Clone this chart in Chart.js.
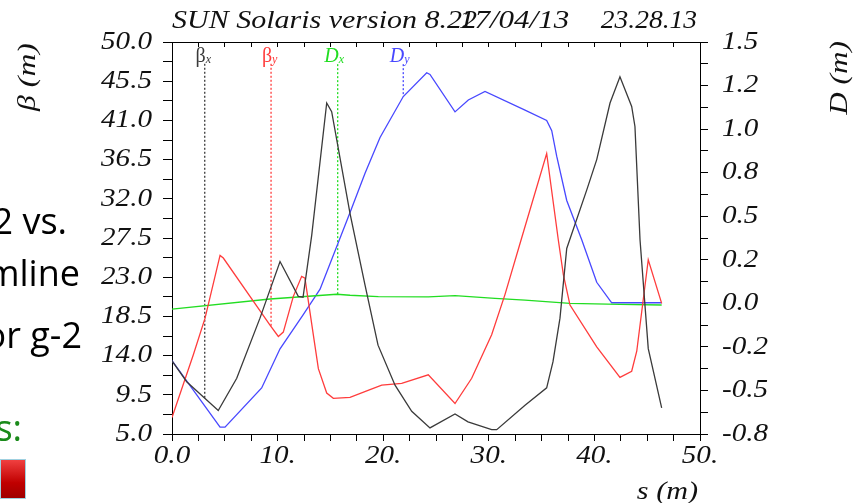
<!DOCTYPE html>
<html>
<head>
<meta charset="utf-8">
<script src="https://cdn.jsdelivr.net/npm/chart.js@4/dist/chart.umd.min.js"></script>
<style>
  body { margin: 0; background: #fff; }
  #wrap { position: relative; width: 864px; height: 503px; overflow: hidden; }
  canvas { position: absolute; left: 0; top: 0; }
  .slide { position: absolute; font-family: "Open Sans", sans-serif; font-size: 36px; white-space: nowrap; line-height: 1; }
  #box { position: absolute; left: 0; top: 459px; width: 24px; height: 38px; border: 1px solid #9fd0e0;
         background: linear-gradient(#f04040, #c00000 60%, #a00000); }
</style>
</head>
<body>
<div id="wrap">
  <canvas id="optics" width="864" height="503"></canvas>
  <div class="slide" style="right:797px; top:203px;">2 vs.</div>
  <div class="slide" style="right:784px; top:255px;">mline</div>
  <div class="slide" style="right:782px; top:317px;">or g-2</div>
  <div class="slide" style="right:842px; top:410px; color:#1a8a1a;">s:</div>
  <div id="box"></div>
</div>
<script>
"use strict";

// beta x (m) vs s (m)
const betaXs = [0, 1.39, 4.38, 6.13, 8.33, 10.23, 11.96, 12.41, 13.23, 14.65, 15.12, 16.86, 18.28, 19.51, 21.12, 22.70, 24.43, 26.80, 28.03, 30.27, 30.75, 33.43, 35.48, 36.08, 36.74, 37.38, 39.27, 40.22, 41.48, 42.42, 43.53, 43.84, 44.32, 45.10, 46.37];
const betaX = [13.4, 11.0, 7.7, 11.4, 18.3, 24.8, 20.8, 20.7, 27.8, 43.0, 42.0, 30.3, 22.1, 15.2, 10.6, 7.6, 5.7, 7.3, 6.4, 5.5, 5.5, 8.3, 10.3, 13.3, 18.3, 26.3, 33.0, 36.5, 43.0, 46.0, 42.6, 40.3, 27.3, 14.8, 8.0];

// beta y (m) vs s (m)
const betaYs = [0, 2.02, 3.13, 4.55, 4.86, 9.28, 10.07, 10.54, 11.49, 12.28, 12.59, 13.38, 13.86, 14.65, 15.28, 16.86, 18.75, 19.86, 21.75, 24.27, 26.80, 28.38, 30.27, 31.53, 33.11, 35.48, 36.58, 37.06, 37.69, 40.22, 42.42, 43.53, 44.01, 45.10, 46.37];
const betaY = [6.9, 14.1, 18.3, 25.5, 25.2, 17.5, 16.2, 16.7, 20.8, 23.1, 22.9, 16.4, 12.5, 9.7, 9.1, 9.2, 10.1, 10.6, 10.8, 11.8, 8.5, 11.4, 16.4, 21.0, 27.5, 37.2, 27.3, 23.3, 19.8, 15.0, 11.5, 12.2, 14.5, 25.0, 20.0];

// dispersion x (m) vs s (m)
const dispXs = [0, 9.28, 15.6, 16.86, 19.54, 24.27, 26.8, 30.59, 33.43, 37.69, 42.42, 46.37];
const dispX = [-0.067, -0.008, 0.020, 0.014, 0.006, 0.004, 0.012, -0.004, -0.015, -0.033, -0.039, -0.043];

// dispersion y (m) vs s (m)
const dispYs = [0, 4.55, 5.02, 8.49, 10.23, 12.43, 14.02, 16.86, 18.28, 19.70, 21.90, 24.12, 24.43, 26.80, 28.06, 29.64, 33.43, 35.48, 35.96, 36.43, 37.38, 38.80, 40.22, 41.64, 46.37];
const dispY = [-0.37, -0.76, -0.76, -0.53, -0.30, -0.10, 0.05, 0.50, 0.73, 0.94, 1.18, 1.32, 1.31, 1.09, 1.16, 1.21, 1.10, 1.04, 0.98, 0.83, 0.57, 0.34, 0.09, -0.03, -0.03];

// marker lines: s position, top value, value where it stops
const markerNames = ["βx", "βy", "Dx", "Dy"];
const markerS = [3.1, 9.38, 15.69, 21.9];
const markerTop = [47.5, 47.5, 1.37, 1.37];
const markerEnd = [9.1, 17.3, 0.02, 1.18];

// axis labels
const sTickLabels = ["0.0", "10.", "20.", "30.", "40.", "50."];
const betaTickLabels = ["5.0", "9.5", "14.0", "18.5", "23.0", "27.5", "32.0", "36.5", "41.0", "45.5", "50.0"];
const dispTickLabels = ["-0.8", "-0.5", "-0.2", "0.0", "0.2", "0.5", "0.8", "1.0", "1.2", "1.5"];
const titleText = ["SUN Solaris version 8.22", "17/04/13", "23.28.13"];

const serif = '"Liberation Serif", "Times New Roman", serif';
const colBx = "#3a3a3a", colBy = "#ff3c3c", colDx = "#22dd22", colDy = "#4848ff";

const toPts = (xs, ys) => xs.map((s, i) => ({ x: s, y: ys[i] }));

// tick positions: majors plus a minor halfway between
function withMinors(lo, hi, nMajor) {
  const out = [];
  const n = (nMajor - 1) * 2;
  for (let i = 0; i <= n; i++) out.push(lo + (hi - lo) * i / n);
  return out;
}
const sTicks = withMinors(0, 50, 21).filter((v, i) => i % 2 === 0); // every 2.5
const betaTicks = withMinors(5, 50, betaTickLabels.length);
const dispTicks = withMinors(-0.8, 1.5, dispTickLabels.length);

const markerSets = markerNames.map((name, i) => ({
  data: [{ x: markerS[i], y: markerTop[i] }, { x: markerS[i], y: markerEnd[i] }],
  yAxisID: i < 2 ? "y" : "y2",
  borderColor: [colBx, colBy, colDx, colDy][i],
  borderWidth: 1.3,
  borderDash: [2, 2],
  pointRadius: 0
}));

// the old plot's serif text is a bit wide, so it gets a horizontal stretch
function wideText(ctx, text, x, y, k, align, rot) {
  ctx.save();
  ctx.translate(x, y);
  if (rot) ctx.rotate(rot);
  ctx.scale(k, 1);
  ctx.textAlign = align;
  ctx.fillText(text, 0, 0);
  ctx.restore();
}

const extraText = {
  id: "extraText",
  afterDraw(chart) {
    const ctx = chart.ctx;
    const xs = chart.scales.x, ys = chart.scales.y, y2 = chart.scales.y2;
    ctx.save();
    ctx.fillStyle = "#111";

    // title (date is printed over the end of the version string)
    ctx.textBaseline = "alphabetic";
    ctx.font = "italic 25px " + serif;
    wideText(ctx, titleText[0], 172, 28, 1.2, "left");
    wideText(ctx, titleText[1], 459, 28, 1.24, "left");
    wideText(ctx, titleText[2], 697, 28, 1.1, "right");

    // tick labels
    ctx.font = "italic 26px " + serif;
    ctx.textBaseline = "middle";
    betaTickLabels.forEach((t, i) => wideText(ctx, t, 152, ys.getPixelForValue(betaTicks[i * 2]), 1.12, "right"));
    dispTickLabels.forEach((t, i) => wideText(ctx, t, 722, y2.getPixelForValue(dispTicks[i * 2]), 1.12, "left"));
    ctx.textBaseline = "alphabetic";
    sTickLabels.forEach((t, i) => wideText(ctx, t, xs.getPixelForValue(i * 10), 463, 1.12, "center"));

    // axis titles
    wideText(ctx, "s (m)", 698, 499, 1.16, "right");
    ctx.textBaseline = "middle";
    wideText(ctx, "β (m)", 28, 77, 1.22, "center", -Math.PI / 2);
    wideText(ctx, "D (m)", 840, 78, 1.2, "center", -Math.PI / 2);

    // marker labels
    const cols = [colBx, colBy, colDx, colDy];
    ctx.textBaseline = "alphabetic";
    markerNames.forEach((name, i) => {
      const px = xs.getPixelForValue(markerS[i]);
      ctx.fillStyle = cols[i];
      ctx.textAlign = "right";
      ctx.font = (i < 2 ? "" : "italic ") + "20px " + serif;
      ctx.fillText(name[0], px + 1, 62);
      ctx.textAlign = "left";
      ctx.font = "italic 12px " + serif;
      ctx.fillText(name[1], px + 1, 63);
    });
    ctx.restore();
  }
};

const ctx = document.getElementById("optics").getContext("2d");
new Chart(ctx, {
  type: "line",
  data: {
    datasets: [
      { data: toPts(betaXs, betaX), yAxisID: "y", borderColor: colBx, borderWidth: 1.3, pointRadius: 0 },
      { data: toPts(betaYs, betaY), yAxisID: "y", borderColor: colBy, borderWidth: 1.3, pointRadius: 0 },
      { data: toPts(dispXs, dispX), yAxisID: "y2", borderColor: colDx, borderWidth: 1.3, pointRadius: 0 },
      { data: toPts(dispYs, dispY), yAxisID: "y2", borderColor: colDy, borderWidth: 1.3, pointRadius: 0 },
      ...markerSets
    ]
  },
  options: {
    responsive: false,
    animation: false,
    devicePixelRatio: 1,
    layout: { padding: 0 },
    plugins: { legend: { display: false }, tooltip: { enabled: false } },
    scales: {
      x: {
        type: "linear", position: "bottom", min: 0, max: 50,
        afterBuildTicks: s => { s.ticks = sTicks.map(v => ({ value: v })); },
        afterFit: s => { s.height = 69; },
        ticks: { display: false },
        grid: { drawOnChartArea: false, tickLength: 7, color: "#000" },
        border: { color: "#000", width: 1 }
      },
      xTop: {
        type: "linear", position: "top", min: 0, max: 50,
        afterBuildTicks: s => { s.ticks = sTicks.map(v => ({ value: v })); },
        afterFit: s => { s.height = 42; },
        ticks: { display: false },
        grid: { drawOnChartArea: false, tickLength: -5, color: "#000" },
        border: { color: "#000", width: 1 }
      },
      y: {
        position: "left", min: 5, max: 50,
        afterBuildTicks: s => { s.ticks = betaTicks.map(v => ({ value: v })); },
        afterFit: s => { s.width = 172; },
        ticks: { display: false },
        grid: { drawOnChartArea: false, tickLength: 9, color: "#000" },
        border: { color: "#000", width: 1 }
      },
      y2: {
        position: "right", min: -0.8, max: 1.5,
        afterBuildTicks: s => { s.ticks = dispTicks.map(v => ({ value: v })); },
        afterFit: s => { s.width = 164; },
        ticks: { display: false },
        grid: { drawOnChartArea: false, tickLength: 8, color: "#000" },
        border: { color: "#000", width: 1 }
      }
    }
  },
  plugins: [extraText]
});
</script>
</body>
</html>
